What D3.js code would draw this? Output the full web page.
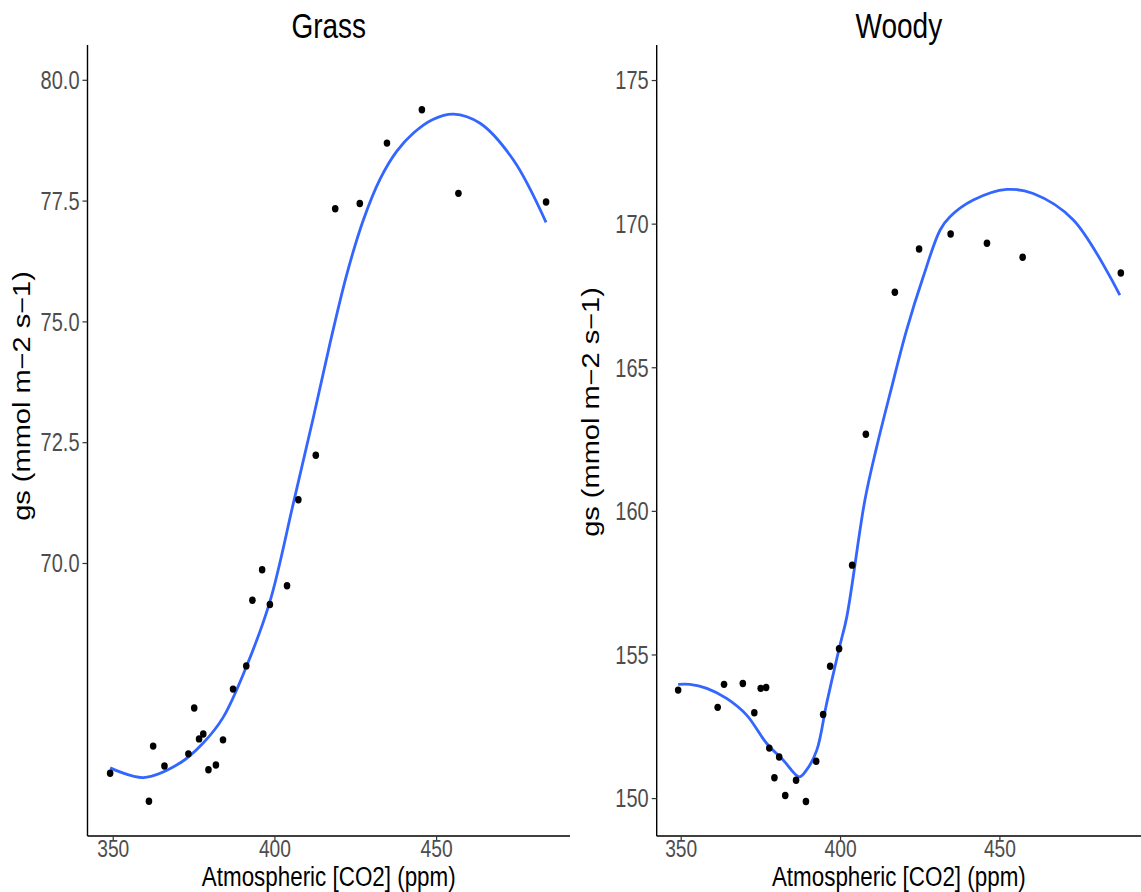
<!DOCTYPE html>
<html>
<head>
<meta charset="utf-8">
<script src="https://cdn.jsdelivr.net/npm/d3@7"></script>
<style>
  html, body { margin: 0; padding: 0; background: #fff; }
  svg { display: block; }
  text { font-family: "Liberation Sans", Arial, Helvetica, sans-serif; }
</style>
</head>
<body>
<svg id="chart" width="1141" height="892"></svg>
<script>
// Stomatal conductance vs atmospheric CO2, two vegetation types
const xTicks = [350, 400, 450];

const grassCO2 = [349.2, 361.2, 362.5, 366.0, 373.4, 375.2, 376.7, 378.0, 379.6, 381.9, 384.1, 387.2, 391.3,
                  393.2, 396.2, 398.6, 403.9, 407.4, 412.8, 418.8, 426.4, 434.8, 445.6, 456.9, 484.0];
const grassGs  = [65.65, 65.07, 66.21, 65.80, 66.05, 67.00, 66.36, 66.46, 65.72, 65.82, 66.34, 67.39, 67.87,
                  69.23, 69.86, 69.14, 69.53, 71.31, 72.23, 77.33, 77.44, 78.69, 79.38, 77.65, 77.47];
const grassFitCO2 = [349.2, 359.5, 370.8, 377.9, 384.1, 391.3, 398.6, 405.9, 412.0, 417.2, 422.4,
                     427.5, 432.7, 437.8, 443.0, 449.0, 455.4, 463.6, 473.9, 484.0];
const grassFitGs  = [65.76, 65.56, 65.86, 66.27, 66.80, 67.85, 69.20, 71.25, 73.00, 74.55, 75.98,
                     77.10, 77.95, 78.52, 78.90, 79.18, 79.29, 79.10, 78.34, 77.05];
const grassTicks = [70, 72.5, 75, 77.5, 80];

const woodyCO2 = [349.2, 361.6, 363.6, 369.5, 373.1, 375.1, 376.8, 377.8, 379.4, 380.9, 382.8, 386.2, 389.3,
                  392.5, 394.7, 396.9, 399.7, 403.8, 408.1, 417.2, 424.8, 434.7, 446.1, 457.3, 488.1];
const woodyGs  = [153.76, 153.16, 153.96, 153.99, 152.97, 153.82, 153.85, 151.74, 150.71, 151.43, 150.09,
                  150.62, 149.88, 151.28, 152.91, 154.59, 155.20, 158.11, 162.67, 167.61, 169.12, 169.64,
                  169.32, 168.83, 168.28];
const woodyFitCO2 = [349.2, 352.9, 358.2, 364.4, 370.7, 377.0, 382.2, 387.2, 389.5, 392.7, 395.8, 399.7,
                     402.1, 407.8, 411.5, 415.7, 420.9, 426.1, 431.4, 434.5, 441.8, 452.3, 460.6, 473.2, 487.8];
const woodyFitGs  = [153.96, 153.96, 153.82, 153.47, 152.89, 151.90, 151.32, 150.74, 150.98, 151.67, 153.30,
                     155.20, 156.30, 160.38, 162.23, 164.09, 166.30, 168.15, 169.78, 170.24, 170.82, 171.19,
                     171.05, 170.13, 167.51];
const woodyTicks = [150, 155, 160, 165, 170, 175];

const panelTitles = ["Grass", "Woody"];
const xTitle = "Atmospheric [CO2] (ppm)";
const yTitle = "gs (mmol m\u22122 s\u22121)";

// horizontal text compression used throughout the figure
const SQ = 0.8;

const panels = [
  { title: panelTitles[0], co2: grassCO2, gs: grassGs, fitCO2: grassFitCO2, fitGs: grassFitGs,
    yTicks: grassTicks, yFmt: d3.format(".1f"),
    xDomain: [342.2, 491.4], xRange: [87.5, 570],
    yDomain: [64.35, 80.72], yRange: [836, 45], yTitleY: 396 },
  { title: panelTitles[1], co2: woodyCO2, gs: woodyGs, fitCO2: woodyFitCO2, fitGs: woodyFitGs,
    yTicks: woodyTicks, yFmt: d3.format("d"),
    xDomain: [342.47, 494.43], xRange: [656.7, 1141],
    yDomain: [148.68, 176.22], yRange: [836, 45], yTitleY: 412 }
];

const svg = d3.select("#chart");

panels.forEach(p => {
  const x = d3.scaleLinear().domain(p.xDomain).range(p.xRange);
  const y = d3.scaleLinear().domain(p.yDomain).range(p.yRange);
  const g = svg.append("g");

  // x axis
  const gx = g.append("g")
    .attr("transform", `translate(0,${p.yRange[0]})`)
    .call(d3.axisBottom(x).tickValues(xTicks).tickSize(4).tickSizeOuter(0));
  // y axis
  const gy = g.append("g")
    .attr("transform", `translate(${p.xRange[0]},0)`)
    .call(d3.axisLeft(y).tickValues(p.yTicks).tickFormat(p.yFmt).tickSize(5).tickSizeOuter(0));

  [gx, gy].forEach(ax => {
    ax.select(".domain").attr("stroke", "#000").attr("stroke-width", 1.4);
    ax.selectAll(".tick line").attr("stroke", "#333").attr("stroke-width", 1.2);
    ax.selectAll(".tick text")
      .attr("fill", "#4d4d4d")
      .style("font-size", "25px");
  });
  gx.selectAll(".tick text")
    .style("font-size", "24px")
    .attr("y", 4).attr("dy", "0.71em")
    .attr("transform", `scale(${SQ},1)`);
  gy.selectAll(".tick text")
    .attr("x", -8 / SQ).attr("dy", "0.35em")
    .attr("transform", `scale(${SQ},1)`);
  gx.select(".domain").attr("d", `M${p.xRange[0]},0H${p.xRange[1]}`);
  gy.select(".domain").attr("d", `M0,${p.yRange[0]}V${p.yRange[1]}`);

  // fitted curve
  const line = d3.line()
    .x((d, i) => x(p.fitCO2[i]))
    .y(d => y(d))
    .curve(d3.curveCatmullRom.alpha(0.5));
  g.append("path")
    .datum(p.fitGs)
    .attr("fill", "none")
    .attr("stroke", "#3366FF")
    .attr("stroke-width", 2.8)
    .attr("stroke-linejoin", "round")
    .attr("d", line);

  // observations
  g.append("g").selectAll("ellipse")
    .data(p.gs)
    .join("ellipse")
    .attr("cx", (d, i) => x(p.co2[i]))
    .attr("cy", d => y(d))
    .attr("rx", 3.3)
    .attr("ry", 3.7)
    .attr("fill", "#000");

  const cx = (p.xRange[0] + p.xRange[1]) / 2;

  // panel title
  g.append("text")
    .attr("transform", `translate(${cx},38) scale(${SQ},1)`)
    .attr("text-anchor", "middle")
    .style("font-size", "35px")
    .attr("fill", "#000")
    .text(p.title);

  // x axis title
  g.append("text")
    .attr("transform", `translate(${cx},886) scale(${SQ},1)`)
    .attr("text-anchor", "middle")
    .style("font-size", "28px")
    .attr("fill", "#000")
    .text(xTitle);

  // y axis title
  g.append("text")
    .attr("transform", `translate(${p.xRange[0] - 58},${p.yTitleY}) scale(${SQ},1) rotate(-90)`)
    .attr("text-anchor", "middle")
    .style("font-size", "29px")
    .attr("fill", "#000")
    .text(yTitle);
});
</script>
</body>
</html>
